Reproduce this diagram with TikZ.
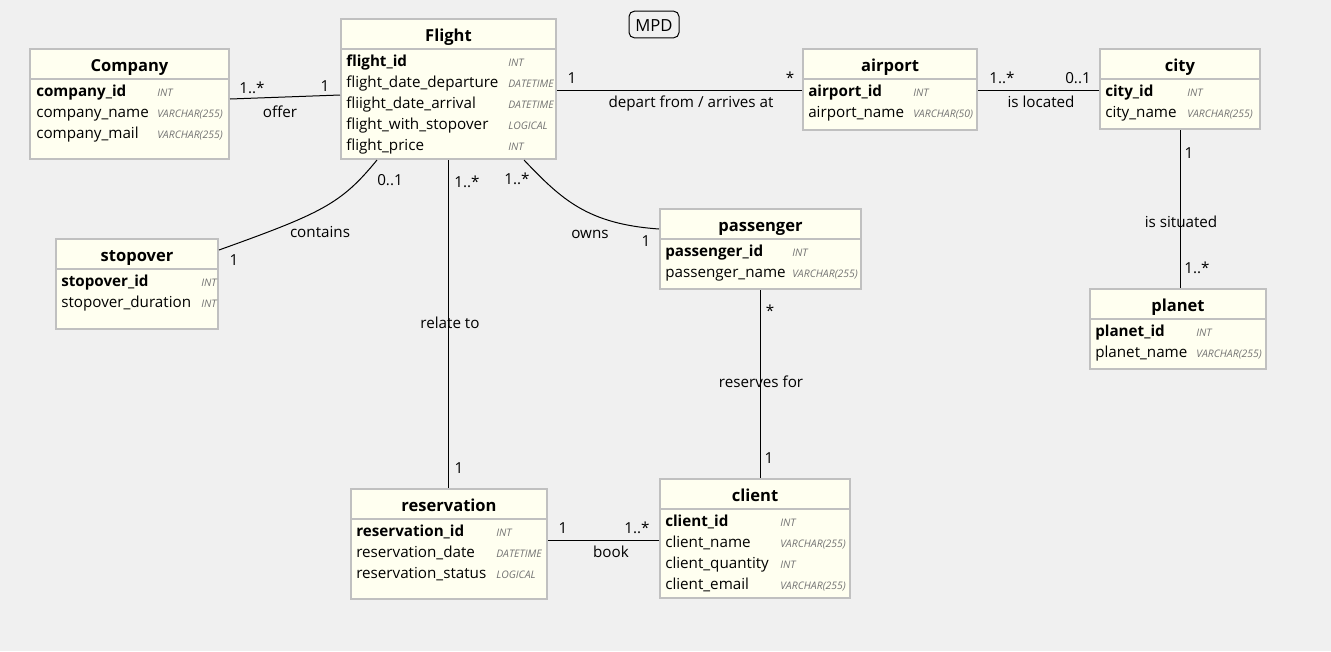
\documentclass[tikz,border=0pt]{standalone}
\usepackage{fontspec}
\setmainfont{Open Sans}
\usepackage{tikz}
\usetikzlibrary{calc, fit}
\usepackage{xcolor}
\definecolor{canvas}{RGB}{240,240,240}
\definecolor{entfill}{RGB}{255,255,240}
\definecolor{entedge}{RGB}{192,192,192}
\definecolor{typegray}{RGB}{115,115,115}

\tikzset{
  entity/.style={draw=entedge, line width=1.5pt, fill=entfill, inner sep=0pt},
  hdr/.style={draw=entedge, line width=1.5pt},
  title/.style={inner sep=0pt, text height=13.5pt, text depth=3pt, font=\fontsize{12.4}{14}\selectfont\bfseries},
  field/.style={anchor=west, inner sep=0pt, text height=11pt, text depth=2.5pt, font=\fontsize{11.4}{13}\selectfont},
  keyfield/.style={field, font=\fontsize{11.4}{13}\selectfont\bfseries},
  ftype/.style={field, text height=8.8pt, text depth=0pt, font=\fontsize{7.8}{9}\selectfont\itshape, text=typegray},
  rel/.style={draw=black, line width=0.75pt},
  lbl/.style={inner sep=0pt, text height=12.5pt, text depth=2.5pt, font=\fontsize{11.4}{13}\selectfont}
}

% box + header line + title
\newcommand{\entity}[6]{%
  \node[entity, fit={(#2,#3) (#4,#5)}] (#1) {};
  \draw[hdr] (#2,#3+30) -- (#4,#3+30);
  \node[title] (#1-t) at ($(#2,#3)!0.5!(#4,#3+30)$) {#6};
}

\begin{document}
\begin{tikzpicture}[x=0.75pt, y=-0.75pt]
  \fill[canvas] (0,0) rectangle (1331,651);

  \node[draw, rounded corners=4pt, line width=0.75pt, minimum width=37.5pt, minimum height=20pt,
        inner sep=0pt, text height=11pt, text depth=1pt, font=\fontsize{12.5}{14}\selectfont] (mpd) at (654,24.5) {MPD};

  % Company
  \entity{company}{30}{49}{229}{159}{Company}
  \node[keyfield] (company-k) at (36,91) {company\_id};
  \node[ftype] (company-kt) at (157,91) {INT};
  \foreach \f/\t [count=\i] in {company\_name/VARCHAR(255), company\_mail/VARCHAR(255)}
    {\node[field] (company-f\i) at (36,91+21*\i) {\f};
     \node[ftype] (company-y\i) at (157,91+21*\i) {\t};}

  % Flight
  \entity{flight}{341}{19}{556}{159}{Flight}
  \node[keyfield] (flight-k) at (346,61) {flight\_id};
  \node[ftype] (flight-kt) at (508,61) {INT};
  \foreach \f/\t [count=\i] in {flight\_date\_departure/DATETIME, fliight\_date\_arrival/DATETIME,
      flight\_with\_stopover/LOGICAL, flight\_price/INT}
    {\node[field] (flight-f\i) at (346,61+21*\i) {\f};
     \node[ftype] (flight-y\i) at (508,61+21*\i) {\t};}

  % airport
  \entity{airport}{803}{49}{977}{130}{airport}
  \node[keyfield] (airport-k) at (808,91) {airport\_id};
  \node[ftype] (airport-kt) at (913,91) {INT};
  \node[field] (airport-f1) at (808,112) {airport\_name};
  \node[ftype] (airport-y1) at (913,112) {VARCHAR(50)};

  % city
  \entity{city}{1100}{49}{1260}{129}{city}
  \node[keyfield] (city-k) at (1105,91) {city\_id};
  \node[ftype] (city-kt) at (1187,91) {INT};
  \node[field] (city-f1) at (1105,112) {city\_name};
  \node[ftype] (city-y1) at (1187,112) {VARCHAR(255)};

  % planet
  \entity{planet}{1090}{289}{1266}{369}{planet}
  \node[keyfield] (planet-k) at (1095,331) {planet\_id};
  \node[ftype] (planet-kt) at (1196,331) {INT};
  \node[field] (planet-f1) at (1095,352) {planet\_name};
  \node[ftype] (planet-y1) at (1196,352) {VARCHAR(255)};

  % stopover
  \entity{stopover}{56}{239}{218}{329}{stopover}
  \node[keyfield] (stopover-k) at (61,281) {stopover\_id};
  \node[ftype] (stopover-kt) at (201,281) {INT};
  \node[field] (stopover-f1) at (61,302) {stopover\_duration};
  \node[ftype] (stopover-y1) at (201,302) {INT};

  % passenger
  \entity{passenger}{660}{209}{861}{289}{passenger}
  \node[keyfield] (passenger-k) at (665,251) {passenger\_id};
  \node[ftype] (passenger-kt) at (792,251) {INT};
  \node[field] (passenger-f1) at (665,272) {passenger\_name};
  \node[ftype] (passenger-y1) at (792,272) {VARCHAR(255)};

  % reservation
  \entity{reservation}{351}{489}{547}{599}{reservation}
  \node[keyfield] (reservation-k) at (356,531) {reservation\_id};
  \node[ftype] (reservation-kt) at (496,531) {INT};
  \foreach \f/\t [count=\i] in {reservation\_date/DATETIME, reservation\_status/LOGICAL}
    {\node[field] (reservation-f\i) at (356,531+21*\i) {\f};
     \node[ftype] (reservation-y\i) at (496,531+21*\i) {\t};}

  % client
  \entity{client}{660}{479}{850}{598}{client}
  \node[keyfield] (client-k) at (665,521) {client\_id};
  \node[ftype] (client-kt) at (780,521) {INT};
  \foreach \f/\t [count=\i] in {client\_name/VARCHAR(255), client\_quantity/INT, client\_email/VARCHAR(255)}
    {\node[field] (client-f\i) at (665,521+21*\i) {\f};
     \node[ftype] (client-y\i) at (780,521+21*\i) {\t};}

  % relations
  \draw[rel] ($(company.east)+(0,-5)$) -- ($(flight.west)+(0,6)$);
  \node[lbl] (offer-m1) at (252,87) {1..*};
  \node[lbl] (offer-m2) at (325,85) {1};
  \node[lbl] (offer) at (280,111) {offer};

  \draw[rel] ($(flight.east)+(0,1)$) -- ($(airport.west)+(0,0.5)$);
  \node[lbl] (depart-m1) at (572,77) {1};
  \node[lbl] (depart-m2) at (790,77) {*};
  \node[lbl] (depart) at (691,101) {depart from / arrives at};

  \draw[rel] ($(airport.east)+(0,0.5)$) -- ($(city.west)+(0,1)$);
  \node[lbl] (located-m1) at (1002,77) {1..*};
  \node[lbl] (located-m2) at (1078,77) {0..1};
  \node[lbl] (located) at (1041,101) {is located};

  \draw[rel] (city.south) -- (city.south |- planet.north);
  \node[lbl] (situated-m1) at (1189,152) {1};
  \node[lbl] (situated) at (1181,221) {is situated};
  \node[lbl] (situated-m2) at (1197,267) {1..*};

  \draw[rel] ($(flight.south west)+(37,0)$) .. controls (341,204) and (322,213) .. ($(stopover.north east)+(0,12)$);
  \node[lbl] (contains-m1) at (390,179) {0..1};
  \node[lbl] (contains) at (320,231) {contains};
  \node[lbl] (contains-m2) at (234,259) {1};

  \draw[rel] (flight.south) -- (flight.south |- reservation.north);
  \node[lbl] (relate-m1) at (467,181) {1..*};
  \node[lbl] (relate) at (450,322) {relate to};
  \node[lbl] (relate-m2) at (459,467) {1};

  \draw[rel] ($(flight.south west)+(184,0)$) .. controls (562,200) and (588,224) .. ($(passenger.north west)+(0,21)$);
  \node[lbl] (owns-m1) at (517,178) {1..*};
  \node[lbl] (owns) at (590,232) {owns};
  \node[lbl] (owns-m2) at (646,240) {1};

  \draw[rel] (passenger.south) -- (passenger.south |- client.north);
  \node[lbl] (reserves-m1) at (770,310) {*};
  \node[lbl] (reserves) at (761,381) {reserves for};
  \node[lbl] (reserves-m2) at (769,457) {1};

  \draw[rel] ($(reservation.east)+(0,-4)$) -- ($(client.west)+(0,1.5)$);
  \node[lbl] (book-m1) at (563,527) {1};
  \node[lbl] (book-m2) at (637,527) {1..*};
  \node[lbl] (book) at (611,551) {book};
\end{tikzpicture}
\end{document}
